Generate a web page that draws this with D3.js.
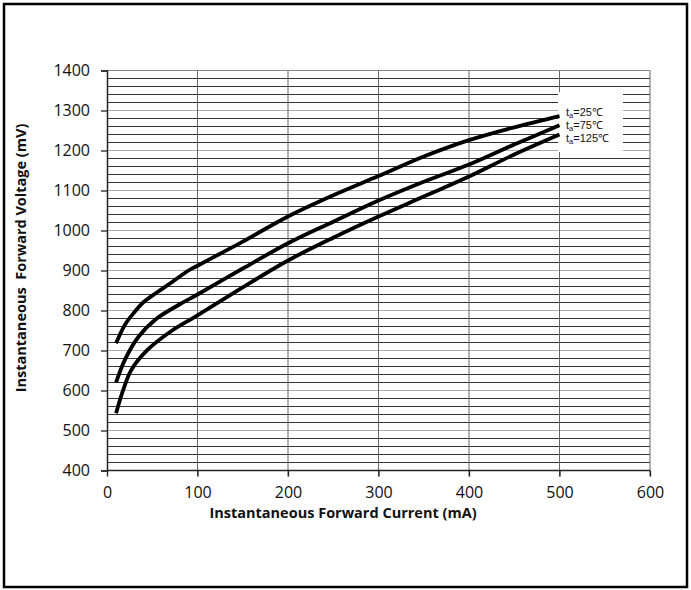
<!DOCTYPE html>
<html>
<head>
<meta charset="utf-8">
<script src="https://cdn.jsdelivr.net/npm/d3@7"></script>
<style>
  body { margin: 0; background: #fff; }
  text { font-family: "Open Sans", "Noto Sans", sans-serif; }
</style>
</head>
<body>
<script>
// forward voltage curves
const xTicks = [0, 100, 200, 300, 400, 500, 600];
const yTicks = [400, 500, 600, 700, 800, 900, 1000, 1100, 1200, 1300, 1400];
const legendLabels = ['25℃', '75℃', '125℃'];

const temp25 = [[10, 718], [20, 765], [30, 795], [40, 820], [55, 845], [70, 868], [90, 900],
  [100, 912], [125, 942], [150, 972], [200, 1035], [250, 1088], [300, 1136], [350, 1185],
  [400, 1226], [450, 1258], [500, 1286]];
const temp75 = [[10, 620], [20, 678], [35, 735], [55, 780], [80, 815], [100, 840], [150, 905],
  [200, 968], [250, 1022], [300, 1075], [350, 1122], [400, 1165], [450, 1215], [500, 1263]];
const temp125 = [[10, 543], [18, 602], [27, 652], [45, 702], [70, 747], [100, 788], [150, 858],
  [200, 925], [250, 982], [300, 1035], [350, 1085], [400, 1135], [450, 1190], [500, 1240]];

const width = 691;
const height = 590;

const svg = d3.select('body').append('svg')
  .attr('width', width)
  .attr('height', height);

// outer frame
svg.append('rect')
  .attr('x', 4).attr('y', 4)
  .attr('width', 683).attr('height', 583)
  .attr('fill', 'none')
  .attr('stroke', '#000')
  .attr('stroke-width', 2.5);

const x = d3.scaleLinear().domain([0, 600]).range([107, 650]);
const y = d3.scaleLinear().domain([400, 1400]).range([470.5, 70.5]);

// horizontal grid every 20 mV
const gridY = d3.range(420, 1400, 20);
svg.append('g').selectAll('line')
  .data(gridY)
  .enter()
  .append('line')
  .attr('x1', x(0)).attr('x2', x(600))
  .attr('y1', d => y(d)).attr('y2', d => y(d))
  .attr('stroke', d => (d % 100 === 0 ? '#aaa' : '#333'))
  .attr('stroke-width', d => (d % 100 === 0 ? 1 : 1.2));

// vertical grid
svg.append('g').selectAll('line')
  .data(xTicks.slice(1))
  .enter()
  .append('line')
  .attr('x1', d => x(d)).attr('x2', d => x(d))
  .attr('y1', y(1400)).attr('y2', y(400) + 6)
  .attr('stroke', '#666')
  .attr('stroke-width', 1);

svg.append('line')
  .attr('x1', x(0)).attr('x2', x(600))
  .attr('y1', y(1400)).attr('y2', y(1400))
  .attr('stroke', '#888');

// axes
const xAxis = svg.append('g')
  .attr('transform', `translate(0,${y(400)})`)
  .call(d3.axisBottom(x).tickValues(xTicks).tickFormat(d3.format('d')).tickSize(6).tickPadding(10));
const yAxis = svg.append('g')
  .attr('transform', `translate(${x(0)},0)`)
  .call(d3.axisLeft(y).tickValues(yTicks).tickFormat(d3.format('d')).tickSize(6).tickPadding(11));

[xAxis, yAxis].forEach((g) => {
  g.select('.domain').attr('stroke', '#222').attr('stroke-width', 1.5);
  g.selectAll('.tick line').attr('stroke', '#222').attr('stroke-width', 1.3);
  g.selectAll('.tick text')
    .attr('font-family', '"Open Sans", sans-serif')
    .attr('font-size', 16)
    .attr('fill', '#111');
});
xAxis.select('.domain').attr('d', `M${x(0)},0H${x(600)}`);

// legend box covers the grid
svg.append('rect')
  .attr('x', 558).attr('y', 92)
  .attr('width', 65).attr('height', 60)
  .attr('fill', '#fff');

// curves
const line = d3.line()
  .x(d => x(d[0]))
  .y(d => y(d[1]))
  .curve(d3.curveCatmullRom.alpha(0.5));

svg.append('g').selectAll('path')
  .data([temp25, temp75, temp125])
  .enter()
  .append('path')
  .attr('d', line)
  .attr('fill', 'none')
  .attr('stroke', '#000')
  .attr('stroke-width', 3.8)
  .attr('stroke-linecap', 'butt');

// legend text
const legend = svg.append('g').selectAll('text')
  .data(legendLabels)
  .enter()
  .append('text')
  .attr('x', 566)
  .attr('y', (d, i) => 116 + i * 13)
  .style('font-family', '"Liberation Sans", Arial, sans-serif')
  .attr('font-size', 11)
  .attr('fill', '#111');
legend.append('tspan').text('t');
legend.append('tspan').attr('font-size', 7.5).attr('baseline-shift', '-2').text('a');
legend.append('tspan').text(d => '=' + d);

// axis titles
svg.append('text')
  .attr('x', 343).attr('y', 518)
  .attr('text-anchor', 'middle')
  .attr('font-size', 14.5)
  .attr('font-weight', 'bold')
  .attr('fill', '#111')
  .text('Instantaneous Forward Current (mA)');

svg.append('text')
  .attr('transform', 'translate(26,258) rotate(-90)')
  .attr('text-anchor', 'middle')
  .attr('font-size', 14.5)
  .attr('font-weight', 'bold')
  .attr('fill', '#111')
  .attr('xml:space', 'preserve')
  .style('white-space', 'pre')
  .text('Instantaneous  Forward Voltage (mV)');
</script>
</body>
</html>
